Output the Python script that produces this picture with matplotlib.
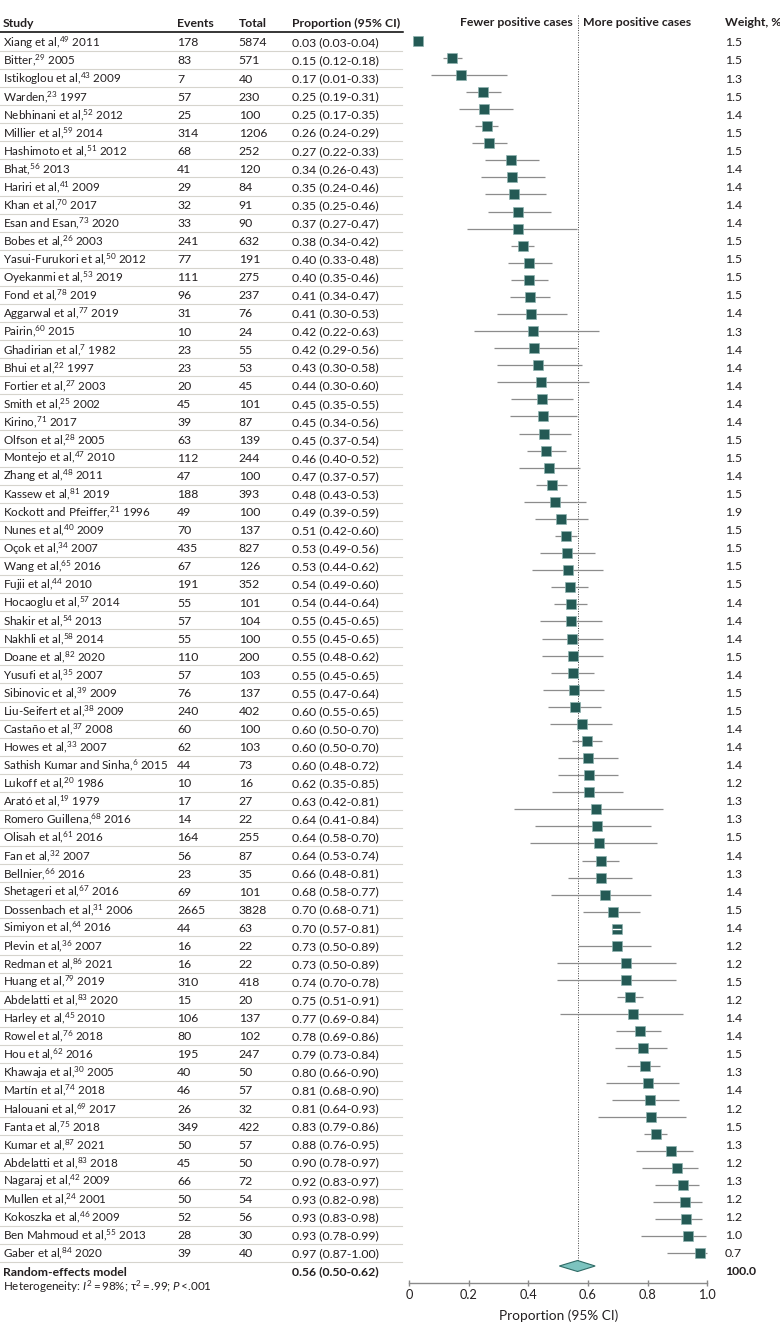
import matplotlib
matplotlib.use("Agg")
import matplotlib.pyplot as plt
from matplotlib.patches import Polygon

plt.rcParams['font.family'] = ['Lato', 'DejaVu Sans']
plt.rcParams['mathtext.fontset'] = 'custom'
plt.rcParams['mathtext.rm'] = 'Lato'
plt.rcParams['mathtext.it'] = 'Lato:italic'
plt.rcParams['mathtext.bf'] = 'Lato:bold'
plt.rcParams['mathtext.default'] = 'regular'

# ---- table data ----
names = ["Xiang et al", "Bitter", "Istikoglou et al", "Warden", "Nebhinani et al", "Millier et al",
         "Hashimoto et al", "Bhat", "Hariri et al", "Khan et al", "Esan and Esan", "Bobes et al",
         "Yasui-Furukori et al", "Oyekanmi et al", "Fond et al", "Aggarwal et al", "Pairin",
         "Ghadirian et al", "Bhui et al", "Fortier et al", "Smith et al", "Kirino", "Olfson et al",
         "Montejo et al", "Zhang et al", "Kassew et al", "Kockott and Pfeiffer", "Nunes et al",
         "Oçok et al", "Wang et al", "Fujii et al", "Hocaoglu et al", "Shakir et al", "Nakhli et al",
         "Doane et al", "Yusufi et al", "Sibinovic et al", "Liu-Seifert et al", "Castaño et al",
         "Howes et al", "Sathish Kumar and Sinha", "Lukoff et al", "Arató et al", "Romero Guillena",
         "Olisah et al", "Fan et al", "Bellnier", "Shetageri et al", "Dossenbach et al",
         "Simiyon et al", "Plevin et al", "Redman et al", "Huang et al", "Abdelatti et al",
         "Harley et al", "Rowel et al", "Hou et al", "Khawaja et al", "Martín et al",
         "Halouani et al", "Fanta et al", "Kumar et al", "Abdelatti et al", "Nagaraj et al",
         "Mullen et al", "Kokoszka et al", "Ben Mahmoud et al", "Gaber et al"]
refs = [49, 29, 43, 23, 52, 59, 51, 56, 41, 70, 73, 26, 50, 53, 78, 77, 60, 7, 22, 27, 25, 71, 28,
        47, 48, 81, 21, 40, 34, 65, 44, 57, 54, 58, 82, 35, 39, 38, 37, 33, 6, 20, 19, 68, 61, 32,
        66, 67, 31, 64, 36, 86, 79, 83, 45, 76, 62, 30, 74, 69, 75, 87, 83, 42, 24, 46, 55, 84]
years = [2011, 2005, 2009, 1997, 2012, 2014, 2012, 2013, 2009, 2017, 2020, 2003, 2012, 2019, 2019,
         2019, 2015, 1982, 1997, 2003, 2002, 2017, 2005, 2010, 2011, 2019, 1996, 2009, 2007, 2016,
         2010, 2014, 2013, 2014, 2020, 2007, 2009, 2009, 2008, 2007, 2015, 1986, 1979, 2016, 2016,
         2007, 2016, 2016, 2006, 2016, 2007, 2021, 2019, 2020, 2010, 2018, 2016, 2005, 2018, 2017,
         2018, 2021, 2018, 2009, 2001, 2009, 2013, 2020]
events = [178, 83, 7, 57, 25, 314, 68, 41, 29, 32, 33, 241, 77, 111, 96, 31, 10, 23, 23, 20, 45, 39,
          63, 112, 47, 188, 49, 70, 435, 67, 191, 55, 57, 55, 110, 57, 76, 240, 60, 62, 44, 10, 17,
          14, 164, 56, 23, 69, 2665, 44, 16, 16, 310, 15, 106, 80, 195, 40, 46, 26, 349, 50, 45, 66,
          50, 52, 28, 39]
totals = [5874, 571, 40, 230, 100, 1206, 252, 120, 84, 91, 90, 632, 191, 275, 237, 76, 24, 55, 53,
          45, 101, 87, 139, 244, 100, 393, 100, 137, 827, 126, 352, 101, 104, 100, 200, 103, 137,
          402, 100, 103, 73, 16, 27, 22, 255, 87, 35, 101, 3828, 63, 22, 22, 418, 20, 137, 102, 247,
          50, 57, 32, 422, 57, 50, 72, 54, 56, 30, 40]
prop = [0.03, 0.15, 0.17, 0.25, 0.25, 0.26, 0.27, 0.34, 0.35, 0.35, 0.37, 0.38, 0.40, 0.40, 0.41,
        0.41, 0.42, 0.42, 0.43, 0.44, 0.45, 0.45, 0.45, 0.46, 0.47, 0.48, 0.49, 0.51, 0.53, 0.53,
        0.54, 0.54, 0.55, 0.55, 0.55, 0.55, 0.55, 0.60, 0.60, 0.60, 0.60, 0.62, 0.63, 0.64, 0.64,
        0.64, 0.66, 0.68, 0.70, 0.70, 0.73, 0.73, 0.74, 0.75, 0.77, 0.78, 0.79, 0.80, 0.81, 0.81,
        0.83, 0.88, 0.90, 0.92, 0.93, 0.93, 0.93, 0.97]
ci_lo = [0.03, 0.12, 0.01, 0.19, 0.17, 0.24, 0.22, 0.26, 0.24, 0.25, 0.27, 0.34, 0.33, 0.35, 0.34,
         0.30, 0.22, 0.29, 0.30, 0.30, 0.35, 0.34, 0.37, 0.40, 0.37, 0.43, 0.39, 0.42, 0.49, 0.44,
         0.49, 0.44, 0.45, 0.45, 0.48, 0.45, 0.47, 0.55, 0.50, 0.50, 0.48, 0.35, 0.42, 0.41, 0.58,
         0.53, 0.48, 0.58, 0.68, 0.57, 0.50, 0.50, 0.70, 0.51, 0.69, 0.69, 0.73, 0.66, 0.68, 0.64,
         0.79, 0.76, 0.78, 0.83, 0.82, 0.83, 0.78, 0.87]
ci_hi = [0.04, 0.18, 0.33, 0.31, 0.35, 0.29, 0.33, 0.43, 0.46, 0.46, 0.47, 0.42, 0.48, 0.46, 0.47,
         0.53, 0.63, 0.56, 0.58, 0.60, 0.55, 0.56, 0.54, 0.52, 0.57, 0.53, 0.59, 0.60, 0.56, 0.62,
         0.60, 0.64, 0.65, 0.65, 0.62, 0.65, 0.64, 0.65, 0.70, 0.70, 0.72, 0.85, 0.81, 0.84, 0.70,
         0.74, 0.81, 0.77, 0.71, 0.81, 0.89, 0.89, 0.78, 0.91, 0.84, 0.86, 0.84, 0.90, 0.90, 0.93,
         0.86, 0.95, 0.97, 0.97, 0.98, 0.98, 0.99, 1.00]
weights = [1.5, 1.5, 1.3, 1.5, 1.4, 1.5, 1.5, 1.4, 1.4, 1.4, 1.4, 1.5, 1.5, 1.5, 1.5, 1.4, 1.3, 1.4,
           1.4, 1.4, 1.4, 1.4, 1.5, 1.5, 1.4, 1.5, 1.9, 1.5, 1.5, 1.5, 1.5, 1.4, 1.4, 1.4, 1.5, 1.4,
           1.5, 1.5, 1.4, 1.4, 1.4, 1.2, 1.3, 1.3, 1.5, 1.4, 1.3, 1.4, 1.5, 1.4, 1.2, 1.2, 1.5, 1.2,
           1.4, 1.4, 1.5, 1.3, 1.4, 1.2, 1.5, 1.3, 1.2, 1.3, 1.2, 1.2, 1.0, 0.7]
total_weight = "100.0"

# ---- marks as drawn in the forest panel ----
plot_est = [0.031, 0.145, 0.174, 0.247, 0.25, 0.26, 0.268, 0.342, 0.345, 0.352, 0.366, 0.366,
            0.381, 0.403, 0.403, 0.405, 0.409, 0.416, 0.418, 0.434, 0.444, 0.445, 0.448, 0.454,
            0.458, 0.469, 0.478, 0.489, 0.51, 0.525, 0.531, 0.534, 0.539, 0.542, 0.544, 0.548,
            0.551, 0.55, 0.553, 0.556, 0.579, 0.598, 0.601, 0.602, 0.603, 0.626, 0.631, 0.637,
            0.644, 0.645, 0.657, 0.684, 0.696, 0.697, 0.726, 0.726, 0.742, 0.751, 0.773, 0.786,
            0.79, 0.801, 0.807, 0.812, 0.827, 0.877, 0.90, 0.917, 0.926, 0.93, 0.935, 0.977]
plot_lo = [0.03, 0.115, 0.073, 0.192, 0.167, 0.222, 0.212, 0.255, 0.241, 0.255, 0.266, 0.195,
           0.342, 0.333, 0.342, 0.34, 0.294, 0.218, 0.286, 0.295, 0.295, 0.343, 0.34, 0.368,
           0.394, 0.369, 0.427, 0.387, 0.422, 0.488, 0.439, 0.413, 0.476, 0.487, 0.439, 0.447,
           0.447, 0.476, 0.45, 0.466, 0.474, 0.548, 0.498, 0.50, 0.48, 0.353, 0.422, 0.406,
           0.58, 0.534, 0.477, 0.582, 0.682, 0.568, 0.496, 0.496, 0.696, 0.507, 0.694, 0.69,
           0.732, 0.662, 0.68, 0.635, 0.787, 0.761, 0.782, 0.826, 0.819, 0.826, 0.779, 0.866]
plot_hi = [0.035, 0.178, 0.33, 0.31, 0.348, 0.30, 0.33, 0.436, 0.456, 0.458, 0.477, 0.564,
           0.42, 0.478, 0.466, 0.472, 0.529, 0.637, 0.562, 0.579, 0.603, 0.551, 0.562, 0.542,
           0.525, 0.574, 0.53, 0.593, 0.599, 0.564, 0.623, 0.65, 0.599, 0.597, 0.647, 0.649,
           0.649, 0.621, 0.655, 0.643, 0.68, 0.648, 0.70, 0.70, 0.718, 0.85, 0.81, 0.832,
           0.704, 0.746, 0.81, 0.774, 0.71, 0.81, 0.896, 0.896, 0.785, 0.917, 0.844, 0.864,
           0.84, 0.904, 0.904, 0.93, 0.866, 0.952, 0.968, 0.972, 0.981, 0.983, 0.995, 1.0]
split_marker_row = 52   # the one square with a white line through it

pooled_est, pooled_lo, pooled_hi = 0.565, 0.504, 0.624
pooled_label = "0.56 (0.50-0.62)"
xticks = [0, 0.2, 0.4, 0.6, 0.8, 1.0]
xtick_labels = ["0", "0.2", "0.4", "0.6", "0.8", "1.0"]

# ---- layout (pixels) ----
W, H = 780, 1335
row0, row_step = 42.0, 18.07        # table rows
mark0, mark_step = 40.7, 17.08      # forest rows
x_left, x_right = 409.0, 707.3       # proportion 0 and 1 in pixels
axis_y = 1282.7
TXT = '#231f20'
FS = 8.8        # numbers, headers
FS_NAME = 8.4   # study column

fig = plt.figure(figsize=(W / 100, H / 100), dpi=100)
tab = fig.add_axes([0, 0, 1, 1])
tab.set_xlim(0, W)
tab.set_ylim(H, 0)
tab.axis('off')

col_study, col_ev, col_tot, col_prop, col_w = 3, 177, 238.7, 291.7, 725

# header
hy = 27
for x, s in [(col_study, "Study"), (col_ev, "Events"), (col_tot, "Total"),
             (col_prop, "Proportion (95% CI)")]:
    tab.text(x, hy, s, fontsize=FS, fontweight='bold', color=TXT, va='baseline')
tab.text(572.3, hy - 1, "Fewer positive cases", fontsize=FS, fontweight='bold', color=TXT,
         va='baseline', ha='right')
tab.text(582.7, hy - 1, "More positive cases", fontsize=FS, fontweight='bold', color=TXT,
         va='baseline', ha='left')
tab.text(col_w, hy - 1, "Weight, %", fontsize=FS, fontweight='bold', color=TXT, va='baseline')
tab.plot([0, 403], [31.7, 31.7], color='black', lw=1.1)

for i in range(len(names)):
    y = row0 + i * row_step
    base = y + 4.4
    tab.text(col_study, base, f"{names[i]},$^{{{refs[i]}}}$ {years[i]}", fontsize=FS_NAME,
             color=TXT, va='baseline')
    tab.text(col_ev, base, str(events[i]), fontsize=FS, color=TXT, va='baseline')
    tab.text(col_tot, base, str(totals[i]), fontsize=FS, color=TXT, va='baseline')
    tab.text(col_prop, base, f"{prop[i]:.2f} ({ci_lo[i]:.2f}-{ci_hi[i]:.2f})", fontsize=FS,
             color=TXT, va='baseline')
    tab.text(col_w, base, f"{weights[i]:.1f}", fontsize=FS, color=TXT, va='baseline')
    tab.plot([0, 402], [y + 9, y + 9], color='#d6d4cd', lw=0.8)

# footer
tab.text(col_study, 1275.5, "Random-effects model", fontsize=FS, fontweight='bold', color=TXT,
         va='baseline')
tab.text(col_prop, 1275.5, pooled_label, fontsize=FS, fontweight='bold', color=TXT,
         va='baseline')
tab.text(col_w, 1275, total_weight, fontsize=FS, fontweight='bold', color=TXT, va='baseline')
tab.text(col_study, 1290.5,
         r"Heterogeneity: $\mathit{I}^{2}\,$=$\,$98%; τ$^{2}\,$=$\,$.99; $\mathit{P}\,$<.001",
         fontsize=FS_NAME, color=TXT, va='baseline')
tab.text((x_left + x_right) / 2, 1316, "Proportion (95% CI)", fontsize=9.8, color=TXT,
         ha='center', va='center')

# ---- forest panel ----
ax = fig.add_axes([x_left / W, (H - axis_y) / H, (x_right - x_left) / W, axis_y / H])
ax.patch.set_visible(False)
ax.set_xlim(0, 1)
ax.set_ylim(axis_y, 0)
for s in ['left', 'right', 'top']:
    ax.spines[s].set_visible(False)
ax.spines['bottom'].set_color('#8a8a8a')
ax.spines['bottom'].set_linewidth(1.0)
ax.set_yticks([])
ax.set_xticks(xticks)
ax.set_xticklabels(xtick_labels)
ax.tick_params(axis='x', direction='inout', length=4.5, width=1.0, color='#8a8a8a',
               labelsize=9.2, labelcolor=TXT, pad=2.5)

ax.plot([pooled_est, pooled_est], [15, 1261], color='#444444', lw=0.7, ls=(0, (1, 1.5)),
        zorder=1)

mark_color = '#245a55'
for i in range(len(plot_est)):
    y = mark0 + i * mark_step
    ax.plot([plot_lo[i], plot_hi[i]], [y, y], color='#8c8c8c', lw=0.9, zorder=2,
            solid_capstyle='butt', clip_on=False)
    ax.plot(plot_est[i], y, marker='s', ms=6.6, color=mark_color, mec='#8fb3b0', mew=0.5,
            zorder=3, clip_on=False)
    if i == split_marker_row:
        ax.plot([plot_lo[i], plot_hi[i]], [y, y], color='white', lw=1.0, zorder=4,
                solid_capstyle='butt')

dy = 1266
ax.add_patch(Polygon([[pooled_lo, dy], [pooled_est, dy - 5.5], [pooled_hi, dy],
                      [pooled_est, dy + 5.5]], closed=True, facecolor='#7cc3bf',
                     edgecolor='#2f6b66', lw=0.8, zorder=3, clip_on=False))

fig.savefig("out.png", dpi=100)
